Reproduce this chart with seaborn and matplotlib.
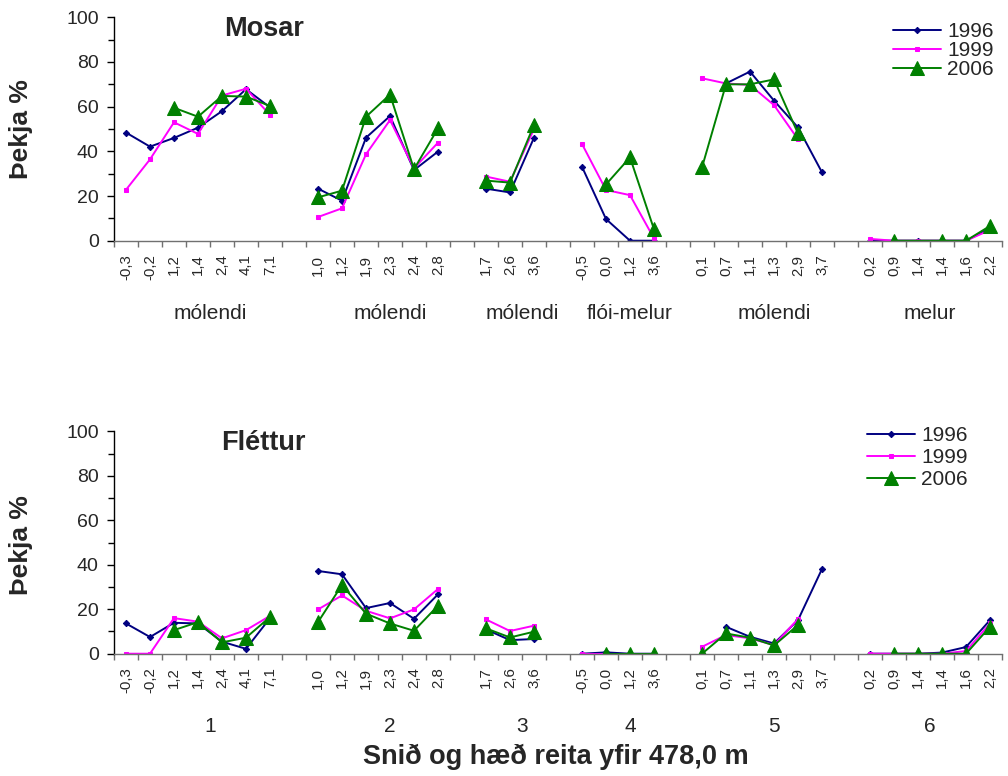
import numpy as np
import pandas as pd
import matplotlib
matplotlib.use("Agg")
import matplotlib.pyplot as plt
from matplotlib.ticker import MultipleLocator
import seaborn as sns

# Elevation of each plot (m above 478,0 m), grouped by transect
heights = [
    ["-0,3", "-0,2", "1,2", "1,4", "2,4", "4,1", "7,1"],
    ["1,0", "1,2", "1,9", "2,3", "2,4", "2,8"],
    ["1,7", "2,6", "3,6"],
    ["-0,5", "0,0", "1,2", "3,6"],
    ["0,1", "0,7", "1,1", "1,3", "2,9", "3,7"],
    ["0,2", "0,9", "1,4", "1,4", "1,6", "2,2"],
]
habitats = ["mólendi", "mólendi", "mólendi", "flói-melur", "mólendi", "melur"]
transects = ["1", "2", "3", "4", "5", "6"]
years = ["1996", "1999", "2006"]

# Moss cover (%)
mosar_1996 = [48.4, 42.1, 46.0, 50.6, 58.0, 67.8, 59.7,
              23.3, 17.9, 46.1, 55.8, 31.6, 39.9,
              23.3, 21.6, 46.1,
              33.1, 9.7, 0.0, 0.0,
              None, 70.4, 75.7, 62.7, 50.7, 30.6,
              0.0, 0.0, 0.0, 0.0, 0.0, 5.5]
mosar_1999 = [22.8, 36.4, 53.0, 47.8, 65.0, 68.0, 56.3,
              10.6, 14.5, 38.7, 54.0, 32.4, 43.9,
              28.7, 26.4, 50.0,
              43.3, 22.7, 20.4, 1.0,
              72.7, 70.4, 69.7, 60.7, 45.4, None,
              0.8, 0.0, 0.0, 0.0, 0.0, 4.8]
mosar_2006 = [None, None, 59.5, 55.5, 64.8, 64.5, 60.3,
              19.4, 22.4, 55.5, 65.4, 32.0, 50.3,
              26.9, 26.0, 51.8,
              None, 25.2, 37.3, 5.1,
              32.8, 70.0, 70.0, 72.2, 48.0, None,
              None, 0.0, None, 0.0, 0.0, 6.6]

# Lichen cover (%)
flettur_1996 = [13.6, 7.5, 13.9, 13.6, 5.4, 2.2, 16.0,
                37.2, 35.7, 20.5, 22.8, 15.7, 26.7,
                10.9, 6.1, 6.6,
                0.0, 0.6, 0.0, 0.0,
                None, 12.1, 7.6, 4.6, 15.1, 38.1,
                0.0, 0.0, 0.0, 0.5, 3.0, 15.1]
flettur_1999 = [0.0, 0.0, 16.0, 14.4, 6.9, 10.6, 17.0,
                19.9, 26.2, 19.3, 15.9, 19.9, 29.1,
                15.4, 10.2, 12.6,
                0.0, 0.0, 0.0, 0.0,
                3.1, 8.4, 6.9, 3.9, 15.6, None,
                0.0, 0.0, 0.0, 0.0, 1.2, 13.6]
flettur_2006 = [None, None, 10.6, 14.2, 5.1, 7.2, 16.5,
                14.2, 30.9, 18.0, 13.6, 10.3, 21.6,
                11.4, 7.3, 9.9,
                None, 0.0, 0.0, 0.0,
                0.0, 9.1, 7.2, 3.7, 12.9, None,
                None, 0.0, 0.0, 0.0, 0.0, 12.1]

# ---- category layout: one empty slot between transects ----
group_start = []
pos = 0
for h in heights:
    group_start.append(pos)
    pos += len(h) + 1
n_slots = pos - 1

x_pos, grp_idx, tick_lab = [], [], []
for g, h in enumerate(heights):
    for j, lab in enumerate(h):
        x_pos.append(group_start[g] + j)
        grp_idx.append(g)
        tick_lab.append(lab)

group_centre = []
for g, h in enumerate(heights):
    end = group_start[g + 1] if g + 1 < len(heights) else group_start[g] + len(h)
    group_centre.append((group_start[g] + end) / 2 - 0.5)


def long_table(series):
    rows = []
    for year, vals in zip(years, series):
        for x, g, v in zip(x_pos, grp_idx, vals):
            rows.append({"x": x, "group": g, "year": year,
                         "value": np.nan if v is None else v})
    return pd.DataFrame(rows)


panels = [
    ("Mosar", long_table([mosar_1996, mosar_1999, mosar_2006]), habitats),
    ("Fléttur", long_table([flettur_1996, flettur_1999, flettur_2006]), transects),
]

styles = {
    "1996": dict(color="#000080", marker="D", markersize=3.2, linewidth=1.4),
    "1999": dict(color="#FF00FF", marker="s", markersize=2.8, linewidth=1.4),
    "2006": dict(color="#008000", marker="^", markersize=10, linewidth=1.4),
}

sns.set_style("white")
plt.rcParams["font.family"] = ["Liberation Sans", "DejaVu Sans"]

W, H = 1008, 776
fig = plt.figure(figsize=(W / 100, H / 100), dpi=100)

axes_px = [(114, 240.7, 888, 223.4), (114, 653.7, 888, 222.4)]
title_px = [(224, 29), (221, 443)]
ylab_py = [129, 545]
legend_px = [(994, 22, 0.0), (968, 426, 0.15)]

for (title, df, glabels), (l, b, w, h), (tx, ty), yl, (lx, ly, lsp) in zip(
        panels, axes_px, title_px, ylab_py, legend_px):
    ax = fig.add_axes([l / W, 1 - b / H, w / W, h / H])
    for year in years:
        sub = df[df["year"] == year].dropna()
        st = styles[year]
        sns.lineplot(data=sub, x="x", y="value", units="group", estimator=None,
                     sort=False, color=st["color"], marker=st["marker"],
                     markersize=st["markersize"], linewidth=st["linewidth"],
                     markeredgecolor=st["color"], markerfacecolor=st["color"],
                     label=year, ax=ax, legend=False)

    ax.set_xlim(-0.5, n_slots - 0.5)
    ax.set_ylim(0, 100)
    ax.set_xlabel("")
    ax.set_ylabel("")
    for s in ("top", "right"):
        ax.spines[s].set_visible(False)
    ax.spines["left"].set_color("black")
    ax.spines["left"].set_linewidth(1.0)
    ax.spines["bottom"].set_color("#707070")
    ax.spines["bottom"].set_linewidth(1.0)

    # y axis
    ax.set_yticks(np.arange(0, 101, 20))
    ax.yaxis.set_minor_locator(MultipleLocator(10))
    ax.tick_params(axis="y", which="major", direction="out", length=5,
                   width=1, color="black", labelsize=14, pad=6, left=True)
    ax.tick_params(axis="y", which="minor", direction="out", length=4,
                   width=1, color="black", left=True)

    # x axis: marks between categories, labels at categories
    ax.set_xticks(np.arange(-0.5, n_slots, 1.0))
    ax.set_xticklabels([])
    ax.set_xticks(x_pos, minor=True)
    ax.set_xticklabels(tick_lab, minor=True, rotation=90, fontsize=10.8)
    ax.tick_params(axis="x", which="major", direction="out", length=4,
                   width=1, color="#707070", bottom=True)
    ax.tick_params(axis="x", which="minor", length=0, pad=10)

    for c, lab in zip(group_centre, glabels):
        ax.annotate(lab, xy=(c, 0), xycoords=("data", "axes fraction"),
                    xytext=(0, -52.5), textcoords="offset points",
                    ha="center", va="center", fontsize=15)

    fig.text(tx / W, 1 - ty / H, title, fontsize=19.5, fontweight="bold",
             ha="left", va="center")
    fig.text(21 / W, 1 - yl / H, "Þekja %", fontsize=19, fontweight="bold",
             rotation=90, ha="center", va="center")

    handles, labels = ax.get_legend_handles_labels()
    seen = {}
    for hd, lb in zip(handles, labels):
        if lb in years and lb not in seen:
            seen[lb] = hd
    ax.legend([seen[y] for y in years], years, loc="upper right",
              bbox_to_anchor=(lx / W, 1 - ly / H), bbox_transform=fig.transFigure,
              frameon=False, fontsize=15, borderpad=0, borderaxespad=0,
              labelspacing=lsp, handlelength=2.3, handletextpad=0.3)

fig.text(556 / W, 1 - 757 / H, "Snið og hæð reita yfir 478,0 m",
         fontsize=19.5, fontweight="bold", ha="center", va="center")

fig.savefig("out.png", dpi=100, facecolor="white")
